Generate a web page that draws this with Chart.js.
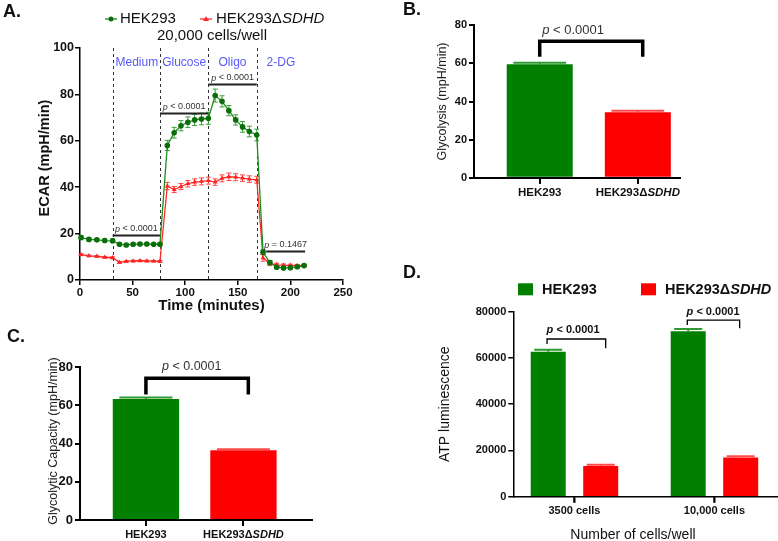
<!DOCTYPE html>
<html>
<head>
<meta charset="utf-8">
<script src="https://cdn.jsdelivr.net/npm/chart.js@4.4.1/dist/chart.umd.min.js"></script>
<style>
  html, body { margin: 0; padding: 0; background: #fff; }
  body { width: 778px; height: 541px; position: relative; overflow: hidden; }
  .panel { position: absolute; }
</style>
</head>
<body>
<div class="panel" style="left:0;top:0;width:360px;height:320px"><canvas id="chartA"></canvas></div>
<div class="panel" style="left:400px;top:0;width:378px;height:230px"><canvas id="chartB"></canvas></div>
<div class="panel" style="left:0;top:320px;width:360px;height:221px"><canvas id="chartC"></canvas></div>
<div class="panel" style="left:400px;top:240px;width:378px;height:301px"><canvas id="chartD"></canvas></div>
<script>
// ---- A. ECAR time course (20,000 cells/well) ----
const timeMin = [1, 8.5, 16, 23.5, 31, 37.5, 44, 50.5, 57, 63.5, 70, 76,
                 83, 89.5, 96, 102.5, 109, 115.5, 122, 128.5, 135, 141.5, 148, 154.5, 161, 168,
                 174, 180.5, 187, 193.5, 200, 206.5, 213];
const ecarHek = [18.3, 17.5, 17.3, 17.0, 16.9, 15.4, 15.1, 15.4, 15.5, 15.5, 15.4, 15.4,
                 58.0, 63.5, 66.5, 68.0, 69.0, 69.4, 69.7, 79.5, 77.0, 73.0, 69.0, 66.0, 64.0, 62.5,
                 12.0, 7.5, 5.5, 5.2, 5.3, 5.7, 6.2];
const ecarHekErr = [0.9, 0.7, 0.6, 0.6, 0.8, 0.6, 0.5, 0.5, 0.5, 0.5, 0.5, 0.6,
                    2.2, 2.3, 2.2, 2.3, 2.4, 2.5, 2.6, 2.8, 2.4, 2.2, 2.2, 2.3, 2.3, 2.5,
                    1.0, 0.8, 0.6, 0.6, 0.6, 0.6, 0.6];
const ecarSdhd = [10.9, 10.4, 10.2, 9.8, 9.6, 7.6, 8.0, 8.2, 8.3, 8.2, 8.1, 8.0,
                  40.5, 39.0, 40.3, 41.5, 42.2, 42.5, 42.8, 42.2, 43.8, 44.5, 44.3, 43.9, 43.5, 43.2,
                  9.5, 7.2, 6.5, 6.3, 6.3, 6.2, 6.2];
const ecarSdhdErr = [0.4, 0.3, 0.3, 0.3, 0.4, 0.4, 0.3, 0.3, 0.3, 0.3, 0.3, 0.4,
                     1.6, 1.3, 1.3, 1.4, 1.4, 1.5, 1.5, 1.4, 1.5, 1.6, 1.5, 1.4, 1.4, 1.5,
                     1.4, 1.0, 0.7, 0.6, 0.5, 0.5, 0.5];
const injectTimes = [31, 76, 122, 168];
const injectNames = ['Medium', 'Glucose', 'Oligo', '2-DG'];
const pFrom = [31, 76, 122, 177];
const pTo = [76, 122, 168, 214];
const pText = ['< 0.0001', '< 0.0001', '< 0.0001', '= 0.1467'];

// ---- B, C. glycolysis / glycolytic capacity ----
const cellLines = ['HEK293', 'HEK293ΔSDHD'];
const glycolysis = [59.5, 34.3];
const glycolysisErr = [0.9, 0.9];
const glycoCapacity = [63.4, 36.5];
const glycoCapacityErr = [0.8, 0.6];

// ---- D. ATP luminescence ----
const cellCounts = ['3500 cells', '10,000 cells'];
const atpHek = [62700, 71500];
const atpHekErr = [900, 1000];
const atpSdhd = [13300, 17000];
const atpSdhdErr = [500, 500];

const FAMILY = "'Liberation Sans', Arial, Helvetica, sans-serif";
const GREEN = '#007f00';
const RED = '#ff0000';

function font(size, weight, style) {
    return [style, weight, size + 'px', FAMILY].filter(Boolean).join(' ');
}

// texto com partes em fontes diferentes (p em italico, SDHD em italico)
function richText(ctx, parts, x, y, align) {
    let total = 0;
    parts.forEach(p => { ctx.font = p[1]; total += ctx.measureText(p[0]).width; });
    let cx = align === 'center' ? x - total / 2 : (align === 'right' ? x - total : x);
    ctx.textAlign = 'left';
    ctx.textBaseline = 'middle';
    parts.forEach(p => { ctx.font = p[1]; ctx.fillText(p[0], cx, y); cx += ctx.measureText(p[0]).width; });
}

function labelParts(text, size, weight) {
    const k = text.indexOf('Δ');
    if (k < 0) return [[text, font(size, weight)]];
    return [[text.slice(0, k + 1), font(size, weight)], [text.slice(k + 1), font(size, weight, 'italic')]];
}

function pParts(text, size, weight) {
    return [['p', font(size, weight, 'italic')], [' ' + text, font(size, weight)]];
}

function rotatedText(ctx, parts, x, y) {
    ctx.save();
    ctx.translate(x, y);
    ctx.rotate(-Math.PI / 2);
    richText(ctx, parts, 0, 0, 'center');
    ctx.restore();
}

function bracket(ctx, xs, ys, x1, x2, yLine, yLeft, yRight, lw) {
    ctx.strokeStyle = '#000';
    ctx.lineWidth = lw;
    ctx.lineJoin = 'miter';
    ctx.beginPath();
    ctx.moveTo(xs.getPixelForValue(x1), ys.getPixelForValue(yLeft));
    ctx.lineTo(xs.getPixelForValue(x1), ys.getPixelForValue(yLine));
    ctx.lineTo(xs.getPixelForValue(x2), ys.getPixelForValue(yLine));
    ctx.lineTo(xs.getPixelForValue(x2), ys.getPixelForValue(yRight));
    ctx.stroke();
}

function axisStyle(tickLen, lw) {
    return {
        offset: false,
        grid: { display: true, drawOnChartArea: false, drawTicks: true, offset: false, tickLength: tickLen, color: '#000', tickColor: '#000', lineWidth: lw, tickWidth: lw },
        border: { display: true, color: '#000', width: lw }
    };
}

// erro (media + SEM) no topo das barras
function barErrors(chart, capColors) {
    const ctx = chart.ctx, ys = chart.scales.y;
    chart.data.datasets.forEach((ds, di) => {
        chart.getDatasetMeta(di).data.forEach((bar, i) => {
            const top = ys.getPixelForValue(ds.data[i].y);
            const cap = ys.getPixelForValue(ds.data[i].y + ds.errors[i]);
            ctx.strokeStyle = capColors[di][i];
            ctx.lineWidth = 2;
            ctx.beginPath();
            ctx.moveTo(bar.x, top); ctx.lineTo(bar.x, cap);
            ctx.moveTo(bar.x - bar.width * 0.4, cap); ctx.lineTo(bar.x + bar.width * 0.4, cap);
            ctx.stroke();
        });
    });
}

// marcas do eixo x em cada categoria
function categoryTicks(chart, count, len, lw) {
    const ctx = chart.ctx, xs = chart.scales.x, area = chart.chartArea;
    ctx.strokeStyle = '#000';
    ctx.lineWidth = lw;
    ctx.beginPath();
    for (let i = 0; i < count; i++) {
        const px = Math.round(xs.getPixelForValue(i));
        ctx.moveTo(px, area.bottom);
        ctx.lineTo(px, area.bottom + len);
    }
    ctx.stroke();
}

// eixo x das barras: so as posicoes 0 e 1, rotulos desenhados a parte
function barXAxis(min, max, height, lw) {
    return Object.assign({
        type: 'linear', min: min, max: max,
        ticks: { display: false },
        afterBuildTicks: s => { s.ticks = [{ value: 0 }, { value: 1 }]; },
        afterFit: s => { s.height = height; }
    }, axisStyle(6, lw));
}

const figure = {

    init() {
        Chart.defaults.font.family = FAMILY;
        Chart.defaults.animation = false;
        this.panelA();
        this.panelB();
        this.panelC();
        this.panelD();
    },

    // painel A: curva ECAR
    panelA: function () {
        const extras = {
            id: 'extrasA',
            beforeDatasetsDraw(chart) {
                const ctx = chart.ctx, xs = chart.scales.x, ys = chart.scales.y;
                ctx.save();
                ctx.strokeStyle = '#333';
                ctx.lineWidth = 1;
                ctx.setLineDash([3, 3]);
                injectTimes.forEach(t => {
                    const px = Math.round(xs.getPixelForValue(t)) + 0.5;
                    ctx.beginPath();
                    ctx.moveTo(px, ys.getPixelForValue(100));
                    ctx.lineTo(px, ys.getPixelForValue(0));
                    ctx.stroke();
                });
                ctx.setLineDash([]);
                [[ecarHek, ecarHekErr, '#35a035'], [ecarSdhd, ecarSdhdErr, '#ff4646']].forEach(s => {
                    ctx.strokeStyle = s[2];
                    ctx.lineWidth = 1;
                    timeMin.forEach((t, i) => {
                        const px = xs.getPixelForValue(t);
                        const lo = ys.getPixelForValue(s[0][i] - s[1][i]);
                        const hi = ys.getPixelForValue(s[0][i] + s[1][i]);
                        ctx.beginPath();
                        ctx.moveTo(px, lo); ctx.lineTo(px, hi);
                        ctx.moveTo(px - 2.5, lo); ctx.lineTo(px + 2.5, lo);
                        ctx.moveTo(px - 2.5, hi); ctx.lineTo(px + 2.5, hi);
                        ctx.stroke();
                    });
                });
                ctx.restore();
            },
            afterDraw(chart) {
                const ctx = chart.ctx, xs = chart.scales.x, ys = chart.scales.y, area = chart.chartArea;
                const pLevel = [19.5, 72, 84.5, 12.5];
                ctx.save();
                // nomes das injecoes
                ctx.fillStyle = 'rgb(88, 88, 252)';
                injectNames.forEach((name, i) => {
                    richText(ctx, [[name, font(12)]], xs.getPixelForValue(injectTimes[i] + 23), ys.getPixelForValue(93.5), 'center');
                });
                // barras de p
                pFrom.forEach((f, i) => {
                    const py = Math.round(ys.getPixelForValue(pLevel[i])) + 0.5;
                    ctx.strokeStyle = '#222';
                    ctx.lineWidth = 1.8;
                    ctx.beginPath();
                    ctx.moveTo(xs.getPixelForValue(f), py);
                    ctx.lineTo(xs.getPixelForValue(pTo[i]), py);
                    ctx.stroke();
                    ctx.fillStyle = '#333';
                    richText(ctx, pParts(pText[i], 9), (xs.getPixelForValue(f) + xs.getPixelForValue(pTo[i])) / 2, py - 6.5, 'center');
                });
                // legenda
                ctx.strokeStyle = '#1e8c1e'; ctx.lineWidth = 1.3;
                ctx.beginPath(); ctx.moveTo(105, 19); ctx.lineTo(117, 19); ctx.stroke();
                ctx.fillStyle = '#0a6e0a';
                ctx.beginPath(); ctx.arc(111, 19, 2.5, 0, Math.PI * 2); ctx.fill();
                ctx.strokeStyle = '#ff2a2a';
                ctx.beginPath(); ctx.moveTo(200, 19); ctx.lineTo(212, 19); ctx.stroke();
                ctx.fillStyle = '#ff2a2a';
                ctx.beginPath(); ctx.moveTo(206, 16.3); ctx.lineTo(209, 21); ctx.lineTo(203, 21); ctx.closePath(); ctx.fill();
                ctx.fillStyle = '#111';
                richText(ctx, labelParts(cellLines[0], 15), 120, 19, 'left');
                richText(ctx, labelParts(cellLines[1], 15), 216, 19, 'left');
                richText(ctx, [['20,000 cells/well', font(15)]], 212, 36, 'center');
                // titulos
                richText(ctx, [['Time (minutes)', font(15, 'bold')]], (area.left + area.right) / 2, 306, 'center');
                rotatedText(ctx, [['ECAR (mpH/min)', font(14.5, 'bold')]], 45, 158);
                richText(ctx, [['A.', font(18, 'bold')]], 3, 12, 'left');
                ctx.restore();
            }
        };

        new Chart(document.getElementById('chartA'), {
            type: 'line',
            data: {
                datasets: [{
                    label: cellLines[0],
                    data: timeMin.map((t, i) => ({ x: t, y: ecarHek[i] })),
                    borderColor: '#1e8c1e', borderWidth: 1.3,
                    pointStyle: 'circle', pointRadius: 2.8, pointBorderWidth: 0,
                    pointBackgroundColor: '#0a6e0a', clip: 6
                }, {
                    label: cellLines[1],
                    data: timeMin.map((t, i) => ({ x: t, y: ecarSdhd[i] })),
                    borderColor: '#ff2a2a', borderWidth: 1.3,
                    pointStyle: 'triangle', pointRadius: 2.8, pointBorderWidth: 0,
                    pointBackgroundColor: '#ff2020', clip: 6
                }]
            },
            options: {
                responsive: true, maintainAspectRatio: false,
                layout: { padding: { left: 0, right: 17, top: 48, bottom: 0 } },
                plugins: { legend: { display: false }, tooltip: { enabled: false } },
                scales: {
                    x: Object.assign({
                        type: 'linear', min: 0, max: 250,
                        ticks: { stepSize: 50, color: '#111', padding: 1, font: { size: 11.5, weight: 'bold' } },
                        afterFit: s => { s.height = 40; }
                    }, axisStyle(5, 1.5)),
                    y: Object.assign({
                        min: 0, max: 100,
                        ticks: { stepSize: 20, color: '#111', padding: 1, font: { size: 12.5, weight: 'bold' } },
                        afterFit: s => { s.width = 80; }
                    }, axisStyle(5, 1.5))
                }
            },
            plugins: [extras]
        });
    },

    // painel B: glicolise
    panelB: function () {
        const extras = {
            id: 'extrasB',
            afterDatasetsDraw(chart) {
                const ctx = chart.ctx, xs = chart.scales.x, ys = chart.scales.y, area = chart.chartArea;
                ctx.save();
                categoryTicks(chart, cellLines.length, 6, 2);
                barErrors(chart, [['#2f9a2f', '#ff4a4a']]);
                bracket(ctx, xs, ys, 0, 1.05, 71.6, 63.5, 63.5, 3.5);
                ctx.fillStyle = '#333';
                richText(ctx, pParts('< 0.0001', 13), xs.getPixelForValue(0.34), ys.getPixelForValue(77.5), 'center');
                ctx.fillStyle = '#111';
                cellLines.forEach((c, i) => richText(ctx, labelParts(c, 11.5, 'bold'), xs.getPixelForValue(i), area.bottom + 15.5, 'center'));
                ctx.fillStyle = '#222';
                rotatedText(ctx, [['Glycolysis (mpH/min)', font(12.5)]], 43, (area.top + area.bottom) / 2);
                ctx.fillStyle = '#111';
                richText(ctx, [['B.', font(18, 'bold')]], 3, 10, 'left');
                ctx.restore();
            }
        };

        new Chart(document.getElementById('chartB'), {
            type: 'bar',
            data: {
                datasets: [{
                    data: glycolysis.map((v, i) => ({ x: i, y: v })),
                    errors: glycolysisErr,
                    backgroundColor: [GREEN, RED], borderWidth: 0,
                    categoryPercentage: 1, barPercentage: 0.673
                }]
            },
            options: {
                responsive: true, maintainAspectRatio: false,
                layout: { padding: { left: 0, right: 98, top: 25.3, bottom: 0 } },
                plugins: { legend: { display: false }, tooltip: { enabled: false } },
                scales: {
                    x: barXAxis(-0.67, 1.43, 52.3, 2),
                    y: Object.assign({
                        min: 0, max: 80,
                        ticks: { stepSize: 20, color: '#111', padding: 2, font: { size: 11, weight: 'bold' } },
                        afterFit: s => { s.width = 74; }
                    }, axisStyle(5, 2))
                }
            },
            plugins: [extras]
        });
    },

    // painel C: capacidade glicolitica
    panelC: function () {
        const extras = {
            id: 'extrasC',
            afterDatasetsDraw(chart) {
                const ctx = chart.ctx, xs = chart.scales.x, ys = chart.scales.y, area = chart.chartArea;
                ctx.save();
                categoryTicks(chart, cellLines.length, 6, 2);
                barErrors(chart, [['#2f9a2f', '#ff4a4a']]);
                bracket(ctx, xs, ys, 0, 1.05, 74.2, 65.8, 65.8, 3.5);
                ctx.fillStyle = '#333';
                richText(ctx, pParts('< 0.0001', 12.5), xs.getPixelForValue(0.47), ys.getPixelForValue(80.3), 'center');
                ctx.fillStyle = '#111';
                cellLines.forEach((c, i) => richText(ctx, labelParts(c, 11, 'bold'), xs.getPixelForValue(i), area.bottom + 15, 'center'));
                ctx.fillStyle = '#222';
                rotatedText(ctx, [['Glycolytic Capacity (mpH/min)', font(12.5)]], 54, 121);
                ctx.fillStyle = '#111';
                richText(ctx, [['C.', font(18, 'bold')]], 7, 17, 'left');
                ctx.restore();
            }
        };

        new Chart(document.getElementById('chartC'), {
            type: 'bar',
            data: {
                datasets: [{
                    data: glycoCapacity.map((v, i) => ({ x: i, y: v })),
                    errors: glycoCapacityErr,
                    backgroundColor: [GREEN, RED], borderWidth: 0,
                    categoryPercentage: 1, barPercentage: 0.68
                }]
            },
            options: {
                responsive: true, maintainAspectRatio: false,
                layout: { padding: { left: 0, right: 48.3, top: 47.3, bottom: 0 } },
                plugins: { legend: { display: false }, tooltip: { enabled: false } },
                scales: {
                    x: barXAxis(-0.676, 1.70, 21, 2),
                    y: Object.assign({
                        min: 0, max: 80,
                        ticks: { stepSize: 20, color: '#111', padding: 2, font: { size: 13, weight: 'bold' } },
                        afterFit: s => { s.width = 80; }
                    }, axisStyle(5, 2))
                }
            },
            plugins: [extras]
        });
    },

    // painel D: luminescencia ATP
    panelD: function () {
        const extras = {
            id: 'extrasD',
            afterDatasetsDraw(chart) {
                const ctx = chart.ctx, xs = chart.scales.x, ys = chart.scales.y, area = chart.chartArea;
                ctx.save();
                categoryTicks(chart, cellCounts.length, 6, 1.5);
                barErrors(chart, [['#2f9a2f', '#2f9a2f'], ['#ff4a4a', '#ff4a4a']]);
                bracket(ctx, xs, ys, -0.196, 0.223, 68200, 66000, 64200, 1.3);
                bracket(ctx, xs, ys, 0.806, 1.18, 76400, 74300, 72800, 1.3);
                ctx.fillStyle = '#111';
                richText(ctx, pParts('< 0.0001', 11, 'bold'), xs.getPixelForValue(-0.01), ys.getPixelForValue(72100), 'center');
                richText(ctx, pParts('< 0.0001', 11, 'bold'), xs.getPixelForValue(0.99), ys.getPixelForValue(80000), 'center');
                cellCounts.forEach((c, i) => richText(ctx, [[c, font(11, 'bold')]], xs.getPixelForValue(i), area.bottom + 14, 'center'));
                richText(ctx, [['Number of cells/well', font(14)]], 233, 295, 'center');
                rotatedText(ctx, [['ATP luminescence', font(14)]], 45, (area.top + area.bottom) / 2);
                // legenda
                ctx.fillStyle = GREEN; ctx.fillRect(118, 43.3, 15, 12);
                ctx.fillStyle = RED; ctx.fillRect(241, 43.3, 15, 12);
                ctx.fillStyle = '#111';
                richText(ctx, labelParts(cellLines[0], 14.5, 'bold'), 142, 49.5, 'left');
                richText(ctx, labelParts(cellLines[1], 14.5, 'bold'), 265, 49.5, 'left');
                richText(ctx, [['D.', font(18, 'bold')]], 3, 33, 'left');
                ctx.restore();
            }
        };

        new Chart(document.getElementById('chartD'), {
            type: 'bar',
            data: {
                datasets: [{
                    label: cellLines[0],
                    data: atpHek.map((v, i) => ({ x: i, y: v })),
                    errors: atpHekErr,
                    backgroundColor: GREEN, borderWidth: 0,
                    categoryPercentage: 0.75, barPercentage: 0.667
                }, {
                    label: cellLines[1],
                    data: atpSdhd.map((v, i) => ({ x: i, y: v })),
                    errors: atpSdhdErr,
                    backgroundColor: RED, borderWidth: 0,
                    categoryPercentage: 0.75, barPercentage: 0.667
                }]
            },
            options: {
                responsive: true, maintainAspectRatio: false,
                layout: { padding: { left: 0, right: 0, top: 71.7, bottom: 0 } },
                plugins: { legend: { display: false }, tooltip: { enabled: false } },
                scales: {
                    x: barXAxis(-0.437, 1.454, 44.3, 1.5),
                    y: Object.assign({
                        min: 0, max: 80000,
                        ticks: { stepSize: 20000, color: '#111', padding: 2, font: { size: 11, weight: 'bold' }, callback: v => String(v) },
                        afterFit: s => { s.width = 113.3; }
                    }, axisStyle(5, 1.5))
                }
            },
            plugins: [extras]
        });
    }
};

figure.init();
</script>
</body>
</html>
